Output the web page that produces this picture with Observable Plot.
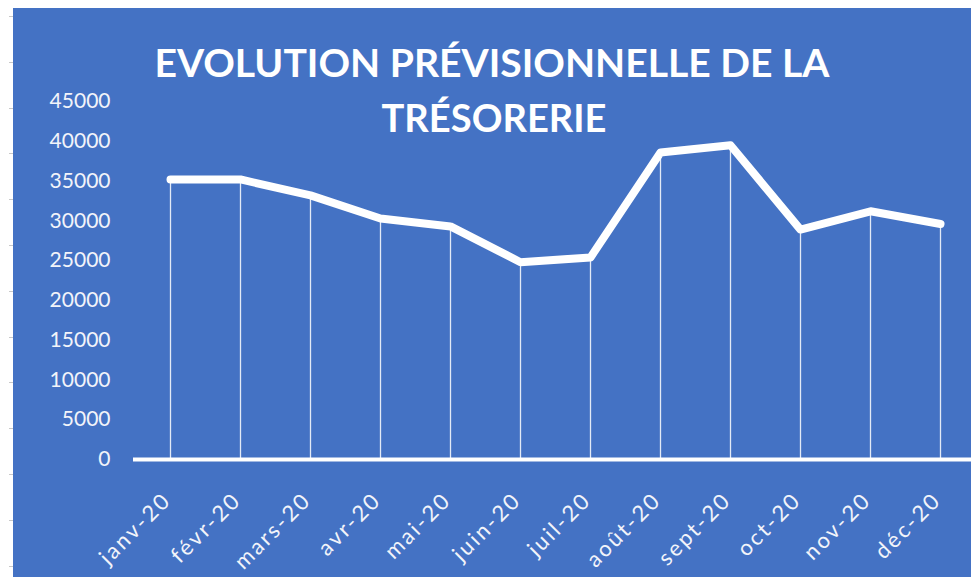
<!DOCTYPE html>
<html>
<head>
<meta charset="utf-8">
<script src="https://cdn.jsdelivr.net/npm/d3@7"></script>
<script src="https://cdn.jsdelivr.net/npm/@observablehq/plot@0.6"></script>
<style>
  html, body { margin: 0; padding: 0; background: #ffffff; }
  #wrap { position: relative; width: 971px; height: 577px; overflow: hidden; background: #ffffff; }
  #chart { position: absolute; left: 13px; top: 8px; }
  .mark { position: absolute; left: 9px; width: 4px; height: 1px; background: #c8c8c8; }
</style>
</head>
<body>
<div id="wrap"><div id="chart"></div></div>
<script>
// ---- data ----
const months = ["janv-20", "févr-20", "mars-20", "avr-20", "mai-20", "juin-20",
                "juil-20", "août-20", "sept-20", "oct-20", "nov-20", "déc-20"];
const values = [35200, 35200, 33200, 30300, 29300, 24800,
                25400, 38600, 39500, 28900, 31200, 29600];
const yTicks = [0, 5000, 10000, 15000, 20000, 25000, 30000, 35000, 40000, 45000];
const titleLines = ["EVOLUTION PRÉVISIONNELLE DE LA", "TRÉSORERIE"];

const data = months.map((m, i) => ({month: m, value: values[i]}));

// decorative spreadsheet row marks on the left strip
const wrap = document.getElementById("wrap");
for (let y = 16; y < 577; y += 45.8) {
  const d = document.createElement("div");
  d.className = "mark";
  d.style.top = Math.round(y) + "px";
  wrap.appendChild(d);
}

const W = 958, H = 569;
const textColor = "#f2f4fa";

const chart = Plot.plot({
  width: W,
  height: H,
  marginTop: 93,
  marginBottom: 118,
  marginLeft: 120,
  marginRight: 0,
  style: {background: "#4472C4", fontFamily: "Lato, sans-serif", overflow: "visible"},
  x: {type: "band", domain: months, range: [120, 963], padding: 0, axis: null},
  y: {domain: [0, 45000], axis: null},
  marks: [
    Plot.axisY(yTicks, {
      tickSize: 0, tickPadding: 23, tickFormat: d => String(d),
      fontSize: 21, fill: textColor, label: null
    }),
    Plot.ruleX(data, {x: "month", y1: 0, y2: "value", stroke: "#ffffff", strokeOpacity: 0.85, strokeWidth: 1.3}),
    Plot.ruleY([0], {stroke: "#ffffff", strokeWidth: 4}),
    Plot.line(data, {x: "month", y: "value", stroke: "#ffffff", strokeWidth: 8,
                     strokeLinecap: "round", strokeLinejoin: "round"}),
    Plot.text(months, {
      x: d => d, frameAnchor: "bottom", dx: 2, dy: 42, rotate: -45,
      textAnchor: "end", lineAnchor: "bottom", fontSize: 22, fill: textColor,
      fontFamily: "Lato, sans-serif"
    })
  ]
});

d3.select(chart).selectAll("text").filter(function() {
  return months.includes(this.textContent);
}).style("letter-spacing", "2.5px");

document.getElementById("chart").appendChild(chart);

// title
const svg = d3.select(chart);
const titlePos = [
  {x: 479, y: 69, len: 675},
  {x: 481, y: 124, len: 225}
];
titleLines.forEach((t, i) => {
  svg.append("text")
    .attr("x", titlePos[i].x)
    .attr("y", titlePos[i].y)
    .attr("text-anchor", "middle")
    .attr("textLength", titlePos[i].len)
    .attr("lengthAdjust", "spacingAndGlyphs")
    .attr("fill", "#ffffff")
    .attr("font-family", "Lato, sans-serif")
    .attr("font-weight", "bold")
    .attr("font-size", 39)
    .text(t);
});
</script>
</body>
</html>
